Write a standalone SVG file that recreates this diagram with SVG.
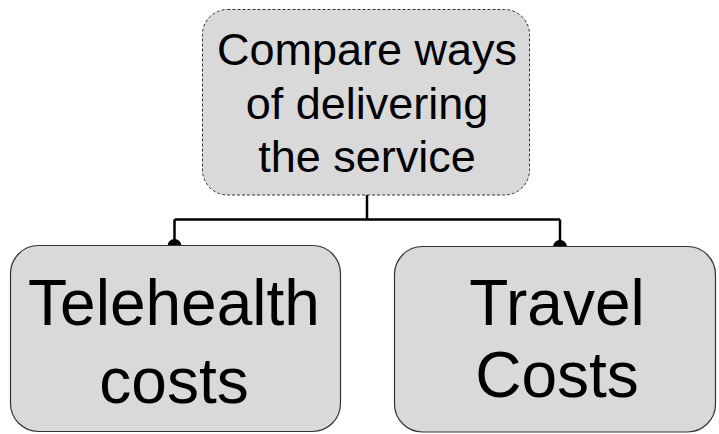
<svg xmlns="http://www.w3.org/2000/svg" width="719" height="434" viewBox="0 0 719 434">
<style>
.node{fill:#d9d9d9;stroke:#333333;stroke-width:1.2}
.dash{stroke-dasharray:3 2;stroke-width:1}
.t{font-family:"Liberation Sans",Arial,sans-serif;fill:#000000;text-anchor:middle}
.conn{fill:none;stroke:#000000;stroke-width:2.5}
.dot{fill:#000000}
</style>
<rect width="719" height="434" fill="#ffffff"/>
<g id="connectors">
<path class="conn" d="M367 195 V219.5 M174.5 219.5 H560 M174.5 219.5 V245 M560 219.5 V246"/>
<circle class="dot" cx="174.5" cy="246" r="7"/>
<circle class="dot" cx="560" cy="247" r="7"/>
</g>
<g id="node-compare">
<rect class="node dash" x="202.5" y="9.5" width="327" height="185.5" rx="25"/>
<text class="t" font-size="45" x="367" y="65">Compare ways</text>
<text class="t" font-size="45" x="367" y="119">of delivering</text>
<text class="t" font-size="45" x="367" y="172">the service</text>
</g>
<g id="node-telehealth">
<rect class="node" x="10.5" y="245.5" width="330" height="186" rx="28"/>
<text class="t" font-size="64" x="174" y="324.5">Telehealth</text>
<text class="t" font-size="64" x="174" y="403">costs</text>
</g>
<g id="node-travel">
<rect class="node" x="394.5" y="246.5" width="321" height="185.5" rx="28"/>
<text class="t" font-size="64" x="557" y="324.5">Travel</text>
<text class="t" font-size="64" x="557" y="397">Costs</text>
</g>
</svg>
